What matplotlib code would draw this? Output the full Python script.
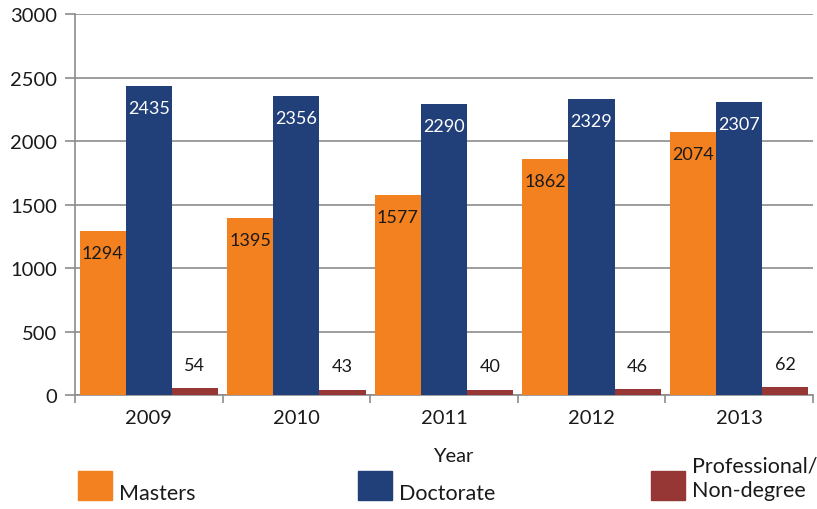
#!/usr/bin/env python3
"""
Grouped bar chart: graduate enrollment by degree type, 2009-2013
"""

import numpy as np
import matplotlib
matplotlib.use("Agg")
import matplotlib.pyplot as plt
from matplotlib.patches import Rectangle

years = ["2009", "2010", "2011", "2012", "2013"]
masters = [1294, 1395, 1577, 1862, 2074]
doctorate = [2435, 2356, 2290, 2329, 2307]
professional = [54, 43, 40, 46, 62]

series_names = ["Masters", "Doctorate", "Professional/\nNon-degree"]
colors = ["#F48120", "#213F78", "#963735"]
label_colors = ["#1a1a1a", "white", "#1a1a1a"]


def main():
    """
    draw the chart
    """
    plt.rcParams['font.family'] = ['Lato', 'DejaVu Sans']
    fig = plt.figure(figsize=(8.17, 5.10), dpi=100)
    ax = fig.add_axes([0.0918, 0.2235, 0.903, 0.747])

    x = np.arange(len(years))
    width = 0.313
    data = [masters, doctorate, professional]
    grid_col = "#8c8c8c"

    for i, (vals, col) in enumerate(zip(data, colors)):
        pos = x + (i - 1) * width
        bars = ax.bar(pos, vals, width, color=col, zorder=3)
        # first two series: label inside the top, last one: above the bar
        dy = -16 if i < 2 else 17
        for b, v in zip(bars, vals):
            cx = b.get_x() + b.get_width() / 2
            ax.annotate(str(v), (cx, v), xytext=(0, dy), textcoords="offset points",
                        ha="center", va="center", fontsize=13, color=label_colors[i],
                        zorder=4)

    ax.set_xlim(-0.5, len(years) - 0.5)
    ax.set_ylim(0, 3000)
    ax.set_yticks(np.arange(0, 3001, 500))
    ax.set_xticks(x)
    ax.set_xticklabels(years)
    ax.set_xticks(np.arange(-0.5, len(years)), minor=True)
    ax.tick_params(axis="x", which="major", length=0, pad=10, labelsize=14.5, colors="#1a1a1a")
    ax.tick_params(axis="x", which="minor", length=6, width=1.2, color=grid_col)
    ax.tick_params(axis="y", length=7, width=1.2, color=grid_col, labelsize=14.5,
                   labelcolor="#1a1a1a", pad=6)

    ax.grid(axis="y", color=grid_col, linewidth=1.2, zorder=0)
    for s in ["top", "right"]:
        ax.spines[s].set_visible(False)
    for s in ["left", "bottom"]:
        ax.spines[s].set_color(grid_col)
        ax.spines[s].set_linewidth(1.2)

    fig.text(453 / 817, 1 - 457 / 510, "Year", ha="center", va="center", fontsize=14.5,
             color="#1a1a1a")

    # legend, laid out by hand
    sq_x = [78, 358, 651]
    for i, name in enumerate(series_names):
        fig.patches.append(Rectangle((sq_x[i] / 817, 1 - 501 / 510), 34 / 817, 29 / 510,
                                     transform=fig.transFigure, color=colors[i]))
        ty = 479 if "\n" in name else 494
        fig.text((sq_x[i] + 41) / 817, 1 - ty / 510, name, ha="left", va="center",
                 fontsize=15.5, color="#1a1a1a", linespacing=1.3)

    fig.savefig("out.png", dpi=100)


if __name__ == "__main__":
    main()
